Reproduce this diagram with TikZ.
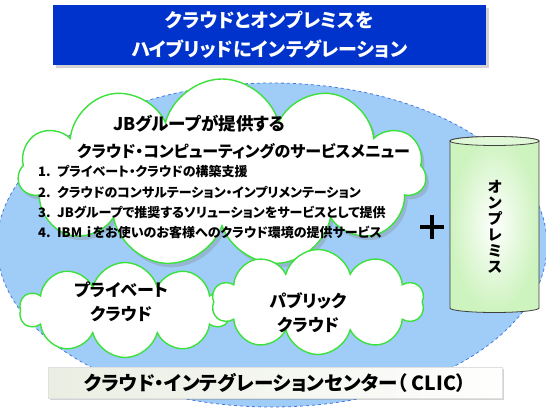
\documentclass[tikz,border=0pt]{standalone}
\usepackage{fontspec}
\setmainfont{Noto Sans CJK JP}[RawFeature=+palt]
\usetikzlibrary{shapes.symbols,shadows}

\definecolor{titleblue}{RGB}{0,51,204}
\definecolor{skyblue}{RGB}{160,204,248}
\definecolor{rimblue}{RGB}{70,120,220}
\definecolor{cloudgreen}{RGB}{60,225,60}
\definecolor{cylgreen}{RGB}{205,243,190}
\definecolor{labelgray}{RGB}{234,238,226}

\begin{document}
\begin{tikzpicture}[x=1pt, y=-1pt, font=\bfseries,
    puff/.style={cloud, cloud puffs=#1, cloud ignores aspect, draw=cloudgreen, line width=1.4pt, fill=white, inner sep=0pt},
    menuline/.style={anchor=west, inner sep=0pt, font=\fontsize{13}{13}\selectfont\bfseries},
    cloudtext/.style={align=center, inner sep=0pt, font=\fontsize{17}{24}\selectfont\bfseries}]
    \useasboundingbox (0,0) rectangle (546,409);

    \begin{scope}
        \clip (0,0) rectangle (546,409);
        \fill[skyblue] (272,245) ellipse [x radius=275, y radius=162];
        \draw[rimblue, dashed, line width=0.8pt] (272,245) ellipse [x radius=275, y radius=162];
    \end{scope}

    \node[fill=titleblue, minimum width=433pt, minimum height=60pt, text=white, align=center,
        drop shadow={opacity=0.35, shadow xshift=3pt, shadow yshift=-3pt},
        font=\fontsize{19}{29}\selectfont\bfseries] (title) at (269.5,35)
        {クラウドとオンプレミスを\\ハイブリッドにインテグレーション};

    % clouds
    \node[puff=11, minimum width=408pt, minimum height=188pt,
        drop shadow={opacity=0.3, shadow xshift=3pt, shadow yshift=-4pt}] (menu) at (222,173) {};
    \node[puff=10, minimum width=210pt, minimum height=95pt] (private) at (125,310) {};
    \node[puff=10, minimum width=212pt, minimum height=105pt] (public) at (318,302) {};

    \node[anchor=west, inner sep=0pt, font=\fontsize{17.5}{17.5}\selectfont\bfseries] (menuhead) at (113,124) {JBグループが提供する};
    \node[anchor=west, inner sep=0pt, font=\fontsize{16}{16}\selectfont\bfseries] (menusub) at (77,151) {クラウド・コンピューティングのサービスメニュー};
    \foreach \i/\t in {1/プライベート・クラウドの構築支援,
                       2/クラウドのコンサルテーション・インプリメンテーション,
                       3/JBグループで推奨するソリューションをサービスとして提供,
                       4/IBM ｉをお使いのお客様へのクラウド環境の提供サービス}
        \node[menuline] (item\i) at (38,{152+20*\i}) {\i.\hspace{0.5em}\t};

    \node[cloudtext] (privatetext) at (121,302) {プライベート\\クラウド};
    \node[cloudtext] (publictext) at (308,313) {パブリック\\クラウド};

    \draw[line width=4pt] (420,227) -- (444,227) (432,215) -- (432,239);

    % on-premises cylinder
    \shadedraw[inner color=white, outer color=cylgreen, draw=black!75, line width=0.8pt]
        (450,141) -- (450,308) arc[start angle=180, end angle=0, x radius=44.5, y radius=4.5]
        -- (539,141) arc[start angle=0, end angle=-180, x radius=44.5, y radius=4.5] -- cycle;
    \draw[draw=black!75, fill=cylgreen!60, line width=0.8pt] (494.5,141) ellipse [x radius=44.5, y radius=4.5];
    \node[align=center, inner sep=0pt, font=\fontsize{15}{16}\selectfont\bfseries] (onprem) at (495,227)
        {オ\\ン\\プ\\レ\\ミ\\ス};

    \node[left color=labelgray, right color=white!96!labelgray, draw=black!12,
        minimum width=454pt, minimum height=31pt,
        drop shadow={opacity=0.35, shadow xshift=2pt, shadow yshift=-2pt},
        font=\fontsize{19.5}{19.5}\selectfont\bfseries] (clic) at (275,382.5)
        {クラウド・インテグレーションセンター（ CLIC）};
\end{tikzpicture}
\end{document}
